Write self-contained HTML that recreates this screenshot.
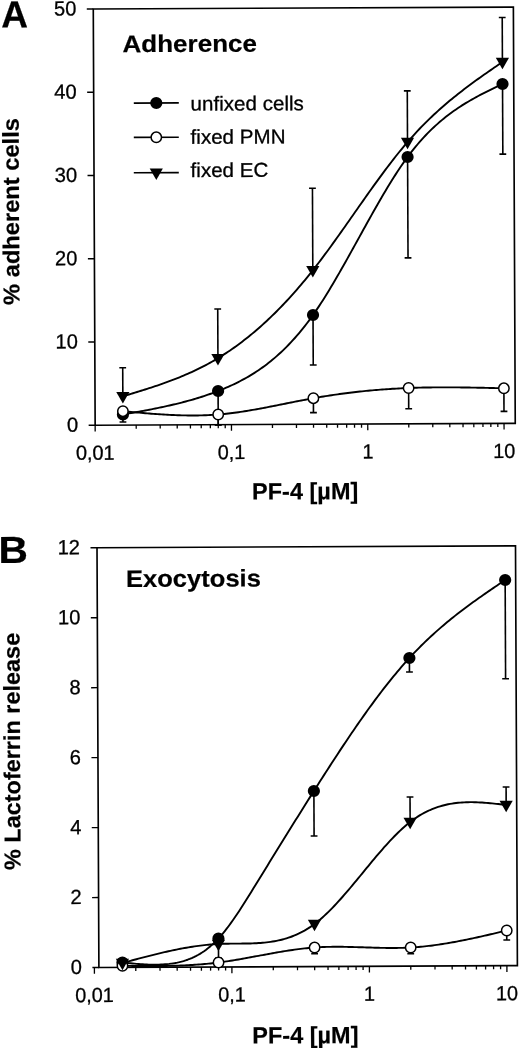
<!DOCTYPE html>
<html lang="en"><head><meta charset="utf-8"><title>PF-4 adherence and exocytosis</title>
<style>
html,body{margin:0;padding:0;background:#fff;}
body{width:520px;height:1048px;overflow:hidden;}
svg{display:block;font-family:'Liberation Sans', Arial, Helvetica, sans-serif;fill:#000;}
</style></head><body>
<svg width="520" height="1048" viewBox="0 0 520 1048">
<rect width="520" height="1048" fill="#fff"/>
<g transform="rotate(-0.258 260 524)">
<rect x="95.60" y="8.25" width="420.10" height="416.25" fill="none" stroke="#000" stroke-width="1.65"/>
<line x1="89.10" y1="424.50" x2="95.60" y2="424.50" stroke="#000" stroke-width="1.4" />
<text transform="translate(78.60 430.90) scale(0.98 1)" font-size="20.5" text-anchor="end" stroke="#000" stroke-width="0.3">0</text>
<line x1="89.10" y1="341.25" x2="95.60" y2="341.25" stroke="#000" stroke-width="1.4" />
<text transform="translate(78.60 347.65) scale(0.98 1)" font-size="20.5" text-anchor="end" stroke="#000" stroke-width="0.3">10</text>
<line x1="89.10" y1="258.00" x2="95.60" y2="258.00" stroke="#000" stroke-width="1.4" />
<text transform="translate(78.60 264.40) scale(0.98 1)" font-size="20.5" text-anchor="end" stroke="#000" stroke-width="0.3">20</text>
<line x1="89.10" y1="174.75" x2="95.60" y2="174.75" stroke="#000" stroke-width="1.4" />
<text transform="translate(78.60 181.15) scale(0.98 1)" font-size="20.5" text-anchor="end" stroke="#000" stroke-width="0.3">30</text>
<line x1="89.10" y1="91.50" x2="95.60" y2="91.50" stroke="#000" stroke-width="1.4" />
<text transform="translate(78.60 97.90) scale(0.98 1)" font-size="20.5" text-anchor="end" stroke="#000" stroke-width="0.3">40</text>
<line x1="89.10" y1="8.25" x2="95.60" y2="8.25" stroke="#000" stroke-width="1.4" />
<text transform="translate(78.60 14.65) scale(0.98 1)" font-size="20.5" text-anchor="end" stroke="#000" stroke-width="0.3">50</text>
<line x1="95.60" y1="424.50" x2="95.60" y2="430.70" stroke="#000" stroke-width="1.3" />
<line x1="136.63" y1="424.50" x2="136.63" y2="428.10" stroke="#000" stroke-width="1.3" />
<line x1="160.63" y1="424.50" x2="160.63" y2="428.10" stroke="#000" stroke-width="1.3" />
<line x1="177.66" y1="424.50" x2="177.66" y2="428.10" stroke="#000" stroke-width="1.3" />
<line x1="190.87" y1="424.50" x2="190.87" y2="428.10" stroke="#000" stroke-width="1.3" />
<line x1="201.66" y1="424.50" x2="201.66" y2="428.10" stroke="#000" stroke-width="1.3" />
<line x1="210.79" y1="424.50" x2="210.79" y2="428.10" stroke="#000" stroke-width="1.3" />
<line x1="218.69" y1="424.50" x2="218.69" y2="428.10" stroke="#000" stroke-width="1.3" />
<line x1="225.66" y1="424.50" x2="225.66" y2="428.10" stroke="#000" stroke-width="1.3" />
<line x1="231.90" y1="424.50" x2="231.90" y2="430.70" stroke="#000" stroke-width="1.3" />
<line x1="272.93" y1="424.50" x2="272.93" y2="428.10" stroke="#000" stroke-width="1.3" />
<line x1="296.93" y1="424.50" x2="296.93" y2="428.10" stroke="#000" stroke-width="1.3" />
<line x1="313.96" y1="424.50" x2="313.96" y2="428.10" stroke="#000" stroke-width="1.3" />
<line x1="327.17" y1="424.50" x2="327.17" y2="428.10" stroke="#000" stroke-width="1.3" />
<line x1="337.96" y1="424.50" x2="337.96" y2="428.10" stroke="#000" stroke-width="1.3" />
<line x1="347.09" y1="424.50" x2="347.09" y2="428.10" stroke="#000" stroke-width="1.3" />
<line x1="354.99" y1="424.50" x2="354.99" y2="428.10" stroke="#000" stroke-width="1.3" />
<line x1="361.96" y1="424.50" x2="361.96" y2="428.10" stroke="#000" stroke-width="1.3" />
<line x1="368.20" y1="424.50" x2="368.20" y2="430.70" stroke="#000" stroke-width="1.3" />
<line x1="409.23" y1="424.50" x2="409.23" y2="428.10" stroke="#000" stroke-width="1.3" />
<line x1="433.23" y1="424.50" x2="433.23" y2="428.10" stroke="#000" stroke-width="1.3" />
<line x1="450.26" y1="424.50" x2="450.26" y2="428.10" stroke="#000" stroke-width="1.3" />
<line x1="463.47" y1="424.50" x2="463.47" y2="428.10" stroke="#000" stroke-width="1.3" />
<line x1="474.26" y1="424.50" x2="474.26" y2="428.10" stroke="#000" stroke-width="1.3" />
<line x1="483.39" y1="424.50" x2="483.39" y2="428.10" stroke="#000" stroke-width="1.3" />
<line x1="491.29" y1="424.50" x2="491.29" y2="428.10" stroke="#000" stroke-width="1.3" />
<line x1="498.26" y1="424.50" x2="498.26" y2="428.10" stroke="#000" stroke-width="1.3" />
<line x1="504.50" y1="424.50" x2="504.50" y2="430.70" stroke="#000" stroke-width="1.3" />
<text transform="translate(95.60 459.00) scale(0.97 1)" font-size="20.5" text-anchor="middle" stroke="#000" stroke-width="0.3">0,01</text>
<text transform="translate(231.90 459.00) scale(0.97 1)" font-size="20.5" text-anchor="middle" stroke="#000" stroke-width="0.3">0,1</text>
<text transform="translate(368.20 459.00) scale(0.97 1)" font-size="20.5" text-anchor="middle" stroke="#000" stroke-width="0.3">1</text>
<text transform="translate(504.50 459.00) scale(0.97 1)" font-size="20.5" text-anchor="middle" stroke="#000" stroke-width="0.3">10</text>
<text transform="translate(3.53 26.34) scale(0.98 1)" font-size="37.8" font-weight="bold" text-anchor="start" stroke="#000" stroke-width="0.2">A</text>
<text transform="translate(124.62 51.58) scale(1.085 1)" font-size="24" font-weight="bold" text-anchor="start" stroke="#000" stroke-width="0.2">Adherence</text>
<text transform="translate(20.41 210.42) rotate(-90) scale(1.03 1)" font-size="23" font-weight="bold" text-anchor="middle" stroke="#000" stroke-width="0.2">% adherent cells</text>
<text transform="translate(305.31 499.50)" font-size="23.5" font-weight="bold" text-anchor="middle" stroke="#000" stroke-width="0.2">PF-4 [µM]</text>
<line x1="135.69" y1="102.53" x2="180.69" y2="102.53" stroke="#000" stroke-width="1.6" />
<circle cx="158.19" cy="102.53" r="6.1" fill="#000"/>
<text transform="translate(192.46 110.29) scale(1.03 1)" font-size="20" text-anchor="start" stroke="#000" stroke-width="0.3">unfixed cells</text>
<line x1="135.54" y1="136.83" x2="180.54" y2="136.83" stroke="#000" stroke-width="1.6" />
<circle cx="158.04" cy="136.83" r="5.2" fill="#fff" stroke="#000" stroke-width="1.5"/>
<text transform="translate(192.31 143.49) scale(1.03 1)" font-size="20" text-anchor="start" stroke="#000" stroke-width="0.3">fixed PMN</text>
<line x1="135.38" y1="172.23" x2="180.38" y2="172.23" stroke="#000" stroke-width="1.6" />
<polygon points="151.28,167.98 164.48,167.98 157.88,179.48" fill="#000"/>
<text transform="translate(192.16 176.79) scale(1.03 1)" font-size="20" text-anchor="start" stroke="#000" stroke-width="0.3">fixed EC</text>
<path d="M123.42,413.88 L125.45,413.53 L127.48,413.19 L129.50,412.84 L131.53,412.48 L133.56,412.13 L135.58,411.78 L137.61,411.42 L139.64,411.06 L141.66,410.70 L143.69,410.33 L145.72,409.96 L147.75,409.59 L149.77,409.21 L151.80,408.83 L153.83,408.44 L155.85,408.04 L157.88,407.64 L159.91,407.23 L161.93,406.82 L163.96,406.40 L165.99,405.97 L168.02,405.53 L170.04,405.08 L172.07,404.63 L174.10,404.16 L176.12,403.69 L178.15,403.20 L180.18,402.71 L182.20,402.20 L184.23,401.69 L186.26,401.16 L188.29,400.62 L190.31,400.06 L192.34,399.50 L194.37,398.92 L196.39,398.33 L198.42,397.72 L200.45,397.10 L202.48,396.47 L204.50,395.82 L206.53,395.15 L208.56,394.47 L210.58,393.77 L212.61,393.06 L214.64,392.33 L216.66,391.58 L218.69,390.81 L220.72,390.03 L222.75,389.22 L224.77,388.40 L226.80,387.55 L228.83,386.68 L230.85,385.79 L232.88,384.88 L234.91,383.93 L236.93,382.96 L238.96,381.96 L240.99,380.94 L243.02,379.88 L245.04,378.79 L247.07,377.67 L249.10,376.52 L251.12,375.33 L253.15,374.10 L255.18,372.84 L257.20,371.54 L259.23,370.20 L261.26,368.82 L263.29,367.40 L265.31,365.94 L267.34,364.43 L269.37,362.88 L271.39,361.28 L273.42,359.64 L275.45,357.95 L277.47,356.21 L279.50,354.42 L281.53,352.57 L283.56,350.68 L285.58,348.73 L287.61,346.73 L289.64,344.67 L291.66,342.56 L293.69,340.38 L295.72,338.15 L297.74,335.86 L299.77,333.51 L301.80,331.10 L303.83,328.62 L305.85,326.07 L307.88,323.47 L309.91,320.79 L311.93,318.05 L313.96,315.24 L315.99,312.36 L318.01,309.41 L320.04,306.40 L322.07,303.33 L324.10,300.20 L326.12,297.01 L328.15,293.78 L330.18,290.50 L332.20,287.17 L334.23,283.80 L336.26,280.39 L338.28,276.94 L340.31,273.46 L342.34,269.95 L344.37,266.42 L346.39,262.86 L348.42,259.28 L350.45,255.68 L352.47,252.07 L354.50,248.45 L356.53,244.82 L358.56,241.18 L360.58,237.54 L362.61,233.91 L364.64,230.27 L366.66,226.65 L368.69,223.03 L370.72,219.43 L372.74,215.85 L374.77,212.28 L376.80,208.74 L378.83,205.22 L380.85,201.73 L382.88,198.28 L384.91,194.86 L386.93,191.47 L388.96,188.13 L390.99,184.84 L393.01,181.59 L395.04,178.39 L397.07,175.24 L399.10,172.15 L401.12,169.12 L403.15,166.16 L405.18,163.26 L407.20,160.42 L409.23,157.66 L411.26,154.98 L413.28,152.37 L415.31,149.83 L417.34,147.36 L419.37,144.96 L421.39,142.63 L423.42,140.36 L425.45,138.16 L427.47,136.01 L429.50,133.93 L431.53,131.91 L433.55,129.95 L435.58,128.04 L437.61,126.19 L439.64,124.39 L441.66,122.64 L443.69,120.94 L445.72,119.29 L447.74,117.69 L449.77,116.13 L451.80,114.61 L453.82,113.13 L455.85,111.70 L457.88,110.30 L459.91,108.94 L461.93,107.62 L463.96,106.32 L465.99,105.07 L468.01,103.84 L470.04,102.64 L472.07,101.46 L474.09,100.32 L476.12,99.19 L478.15,98.09 L480.18,97.01 L482.20,95.95 L484.23,94.91 L486.26,93.88 L488.28,92.87 L490.31,91.87 L492.34,90.88 L494.36,89.90 L496.39,88.93 L498.42,87.96 L500.45,87.00 L502.47,86.05 L504.50,85.09" fill="none" stroke="#000" stroke-width="1.9" stroke-linejoin="round"/>
<line x1="123.42" y1="413.88" x2="123.42" y2="421.38" stroke="#000" stroke-width="1.6" />
<line x1="120.02" y1="421.38" x2="126.82" y2="421.38" stroke="#000" stroke-width="1.6" />
<line x1="218.69" y1="390.81" x2="218.69" y2="424.81" stroke="#000" stroke-width="1.6" />
<line x1="215.29" y1="424.81" x2="222.09" y2="424.81" stroke="#000" stroke-width="1.6" />
<line x1="313.96" y1="315.24" x2="313.96" y2="365.24" stroke="#000" stroke-width="1.6" />
<line x1="310.56" y1="365.24" x2="317.36" y2="365.24" stroke="#000" stroke-width="1.6" />
<line x1="409.23" y1="157.66" x2="409.23" y2="258.56" stroke="#000" stroke-width="1.6" />
<line x1="405.83" y1="258.56" x2="412.63" y2="258.56" stroke="#000" stroke-width="1.6" />
<line x1="504.50" y1="85.09" x2="504.50" y2="155.19" stroke="#000" stroke-width="1.6" />
<line x1="501.10" y1="155.19" x2="507.90" y2="155.19" stroke="#000" stroke-width="1.6" />
<circle cx="123.42" cy="413.88" r="6.1" fill="#000"/>
<circle cx="218.69" cy="390.81" r="6.1" fill="#000"/>
<circle cx="313.96" cy="315.24" r="6.1" fill="#000"/>
<circle cx="409.23" cy="157.66" r="6.1" fill="#000"/>
<circle cx="504.50" cy="85.09" r="6.1" fill="#000"/>
<path d="M123.42,410.58 L125.45,410.78 L127.48,410.98 L129.50,411.17 L131.53,411.37 L133.56,411.56 L135.58,411.75 L137.61,411.94 L139.64,412.13 L141.66,412.31 L143.69,412.49 L145.72,412.67 L147.75,412.85 L149.77,413.02 L151.80,413.19 L153.83,413.35 L155.85,413.51 L157.88,413.66 L159.91,413.81 L161.93,413.95 L163.96,414.09 L165.99,414.22 L168.02,414.34 L170.04,414.45 L172.07,414.56 L174.10,414.66 L176.12,414.76 L178.15,414.84 L180.18,414.92 L182.20,414.98 L184.23,415.04 L186.26,415.09 L188.29,415.13 L190.31,415.16 L192.34,415.18 L194.37,415.18 L196.39,415.18 L198.42,415.16 L200.45,415.14 L202.48,415.10 L204.50,415.05 L206.53,414.98 L208.56,414.91 L210.58,414.81 L212.61,414.71 L214.64,414.59 L216.66,414.46 L218.69,414.31 L220.72,414.15 L222.75,413.97 L224.77,413.78 L226.80,413.58 L228.83,413.36 L230.85,413.13 L232.88,412.89 L234.91,412.64 L236.93,412.37 L238.96,412.09 L240.99,411.81 L243.02,411.51 L245.04,411.21 L247.07,410.89 L249.10,410.57 L251.12,410.24 L253.15,409.90 L255.18,409.55 L257.20,409.20 L259.23,408.84 L261.26,408.48 L263.29,408.11 L265.31,407.73 L267.34,407.35 L269.37,406.97 L271.39,406.58 L273.42,406.19 L275.45,405.80 L277.47,405.40 L279.50,405.00 L281.53,404.61 L283.56,404.21 L285.58,403.81 L287.61,403.41 L289.64,403.01 L291.66,402.61 L293.69,402.22 L295.72,401.82 L297.74,401.43 L299.77,401.04 L301.80,400.66 L303.83,400.28 L305.85,399.90 L307.88,399.53 L309.91,399.16 L311.93,398.80 L313.96,398.44 L315.99,398.09 L318.01,397.75 L320.04,397.41 L322.07,397.08 L324.10,396.76 L326.12,396.44 L328.15,396.13 L330.18,395.82 L332.20,395.53 L334.23,395.23 L336.26,394.95 L338.28,394.67 L340.31,394.39 L342.34,394.13 L344.37,393.87 L346.39,393.61 L348.42,393.36 L350.45,393.12 L352.47,392.89 L354.50,392.65 L356.53,392.43 L358.56,392.21 L360.58,392.00 L362.61,391.79 L364.64,391.59 L366.66,391.40 L368.69,391.21 L370.72,391.03 L372.74,390.85 L374.77,390.68 L376.80,390.52 L378.83,390.36 L380.85,390.21 L382.88,390.06 L384.91,389.92 L386.93,389.78 L388.96,389.66 L390.99,389.53 L393.01,389.41 L395.04,389.30 L397.07,389.19 L399.10,389.09 L401.12,389.00 L403.15,388.91 L405.18,388.82 L407.20,388.74 L409.23,388.67 L411.26,388.60 L413.28,388.54 L415.31,388.48 L417.34,388.43 L419.37,388.38 L421.39,388.34 L423.42,388.30 L425.45,388.27 L427.47,388.24 L429.50,388.22 L431.53,388.20 L433.55,388.18 L435.58,388.17 L437.61,388.16 L439.64,388.16 L441.66,388.16 L443.69,388.17 L445.72,388.17 L447.74,388.18 L449.77,388.20 L451.80,388.22 L453.82,388.24 L455.85,388.26 L457.88,388.29 L459.91,388.32 L461.93,388.35 L463.96,388.38 L465.99,388.42 L468.01,388.46 L470.04,388.50 L472.07,388.54 L474.09,388.58 L476.12,388.63 L478.15,388.68 L480.18,388.73 L482.20,388.78 L484.23,388.83 L486.26,388.88 L488.28,388.94 L490.31,388.99 L492.34,389.05 L494.36,389.11 L496.39,389.16 L498.42,389.22 L500.45,389.28 L502.47,389.34 L504.50,389.40" fill="none" stroke="#000" stroke-width="1.9" stroke-linejoin="round"/>
<line x1="218.69" y1="414.31" x2="218.69" y2="424.81" stroke="#000" stroke-width="1.6" />
<line x1="215.29" y1="424.81" x2="222.09" y2="424.81" stroke="#000" stroke-width="1.6" />
<line x1="313.96" y1="398.44" x2="313.96" y2="412.84" stroke="#000" stroke-width="1.6" />
<line x1="310.56" y1="412.84" x2="317.36" y2="412.84" stroke="#000" stroke-width="1.6" />
<line x1="409.23" y1="388.67" x2="409.23" y2="409.37" stroke="#000" stroke-width="1.6" />
<line x1="405.83" y1="409.37" x2="412.63" y2="409.37" stroke="#000" stroke-width="1.6" />
<line x1="504.50" y1="389.40" x2="504.50" y2="412.50" stroke="#000" stroke-width="1.6" />
<line x1="501.10" y1="412.50" x2="507.90" y2="412.50" stroke="#000" stroke-width="1.6" />
<circle cx="123.42" cy="410.58" r="5.2" fill="#fff" stroke="#000" stroke-width="1.5"/>
<circle cx="218.69" cy="414.31" r="5.2" fill="#fff" stroke="#000" stroke-width="1.5"/>
<circle cx="313.96" cy="398.44" r="5.2" fill="#fff" stroke="#000" stroke-width="1.5"/>
<circle cx="409.23" cy="388.67" r="5.2" fill="#fff" stroke="#000" stroke-width="1.5"/>
<circle cx="504.50" cy="389.40" r="5.2" fill="#fff" stroke="#000" stroke-width="1.5"/>
<path d="M123.42,395.68 L125.45,395.09 L127.48,394.49 L129.50,393.89 L131.53,393.29 L133.56,392.69 L135.58,392.08 L137.61,391.47 L139.64,390.86 L141.66,390.24 L143.69,389.62 L145.72,388.99 L147.75,388.36 L149.77,387.72 L151.80,387.07 L153.83,386.41 L155.85,385.75 L157.88,385.08 L159.91,384.39 L161.93,383.70 L163.96,383.00 L165.99,382.28 L168.02,381.56 L170.04,380.82 L172.07,380.07 L174.10,379.31 L176.12,378.53 L178.15,377.74 L180.18,376.93 L182.20,376.11 L184.23,375.27 L186.26,374.41 L188.29,373.54 L190.31,372.65 L192.34,371.74 L194.37,370.81 L196.39,369.87 L198.42,368.90 L200.45,367.91 L202.48,366.90 L204.50,365.87 L206.53,364.82 L208.56,363.75 L210.58,362.65 L212.61,361.53 L214.64,360.38 L216.66,359.21 L218.69,358.01 L220.72,356.79 L222.75,355.54 L224.77,354.26 L226.80,352.96 L228.83,351.63 L230.85,350.28 L232.88,348.89 L234.91,347.49 L236.93,346.05 L238.96,344.59 L240.99,343.10 L243.02,341.58 L245.04,340.04 L247.07,338.47 L249.10,336.87 L251.12,335.24 L253.15,333.59 L255.18,331.90 L257.20,330.19 L259.23,328.45 L261.26,326.69 L263.29,324.89 L265.31,323.07 L267.34,321.22 L269.37,319.34 L271.39,317.43 L273.42,315.49 L275.45,313.52 L277.47,311.53 L279.50,309.50 L281.53,307.45 L283.56,305.37 L285.58,303.26 L287.61,301.11 L289.64,298.94 L291.66,296.74 L293.69,294.51 L295.72,292.25 L297.74,289.96 L299.77,287.64 L301.80,285.29 L303.83,282.90 L305.85,280.49 L307.88,278.05 L309.91,275.58 L311.93,273.07 L313.96,270.54 L315.99,267.97 L318.01,265.38 L320.04,262.75 L322.07,260.11 L324.10,257.43 L326.12,254.73 L328.15,252.01 L330.18,249.28 L332.20,246.52 L334.23,243.74 L336.26,240.95 L338.28,238.14 L340.31,235.33 L342.34,232.50 L344.37,229.66 L346.39,226.81 L348.42,223.95 L350.45,221.10 L352.47,218.23 L354.50,215.37 L356.53,212.50 L358.56,209.64 L360.58,206.78 L362.61,203.92 L364.64,201.06 L366.66,198.22 L368.69,195.38 L370.72,192.55 L372.74,189.74 L374.77,186.94 L376.80,184.15 L378.83,181.38 L380.85,178.62 L382.88,175.89 L384.91,173.17 L386.93,170.48 L388.96,167.81 L390.99,165.17 L393.01,162.55 L395.04,159.96 L397.07,157.40 L399.10,154.88 L401.12,152.38 L403.15,149.92 L405.18,147.50 L407.20,145.11 L409.23,142.76 L411.26,140.46 L413.28,138.19 L415.31,135.96 L417.34,133.77 L419.37,131.61 L421.39,129.49 L423.42,127.41 L425.45,125.36 L427.47,123.34 L429.50,121.36 L431.53,119.41 L433.55,117.49 L435.58,115.60 L437.61,113.74 L439.64,111.90 L441.66,110.10 L443.69,108.32 L445.72,106.57 L447.74,104.84 L449.77,103.14 L451.80,101.46 L453.82,99.80 L455.85,98.16 L457.88,96.54 L459.91,94.95 L461.93,93.37 L463.96,91.81 L465.99,90.27 L468.01,88.74 L470.04,87.23 L472.07,85.74 L474.09,84.26 L476.12,82.79 L478.15,81.33 L480.18,79.88 L482.20,78.45 L484.23,77.02 L486.26,75.60 L488.28,74.19 L490.31,72.79 L492.34,71.39 L494.36,70.00 L496.39,68.61 L498.42,67.23 L500.45,65.85 L502.47,64.47 L504.50,63.09" fill="none" stroke="#000" stroke-width="1.9" stroke-linejoin="round"/>
<line x1="123.42" y1="395.68" x2="123.42" y2="367.18" stroke="#000" stroke-width="1.6" />
<line x1="120.02" y1="367.18" x2="126.82" y2="367.18" stroke="#000" stroke-width="1.6" />
<line x1="218.69" y1="358.01" x2="218.69" y2="308.81" stroke="#000" stroke-width="1.6" />
<line x1="215.29" y1="308.81" x2="222.09" y2="308.81" stroke="#000" stroke-width="1.6" />
<line x1="313.96" y1="270.54" x2="313.96" y2="188.44" stroke="#000" stroke-width="1.6" />
<line x1="310.56" y1="188.44" x2="317.36" y2="188.44" stroke="#000" stroke-width="1.6" />
<line x1="409.23" y1="142.76" x2="409.23" y2="91.56" stroke="#000" stroke-width="1.6" />
<line x1="405.83" y1="91.56" x2="412.63" y2="91.56" stroke="#000" stroke-width="1.6" />
<line x1="504.50" y1="63.09" x2="504.50" y2="18.59" stroke="#000" stroke-width="1.6" />
<line x1="501.10" y1="18.59" x2="507.90" y2="18.59" stroke="#000" stroke-width="1.6" />
<polygon points="116.82,391.43 130.02,391.43 123.42,402.93" fill="#000"/>
<polygon points="212.09,353.76 225.29,353.76 218.69,365.26" fill="#000"/>
<polygon points="307.36,266.28 320.56,266.28 313.96,277.78" fill="#000"/>
<polygon points="402.63,138.51 415.83,138.51 409.23,150.01" fill="#000"/>
<polygon points="497.90,58.84 511.10,58.84 504.50,70.34" fill="#000"/>
<rect x="96.90" y="547.00" width="418.50" height="419.80" fill="none" stroke="#000" stroke-width="1.65"/>
<line x1="90.40" y1="966.80" x2="96.90" y2="966.80" stroke="#000" stroke-width="1.4" />
<text transform="translate(79.90 973.20) scale(0.98 1)" font-size="20.5" text-anchor="end" stroke="#000" stroke-width="0.3">0</text>
<line x1="90.40" y1="896.83" x2="96.90" y2="896.83" stroke="#000" stroke-width="1.4" />
<text transform="translate(79.90 903.23) scale(0.98 1)" font-size="20.5" text-anchor="end" stroke="#000" stroke-width="0.3">2</text>
<line x1="90.40" y1="826.87" x2="96.90" y2="826.87" stroke="#000" stroke-width="1.4" />
<text transform="translate(79.90 833.27) scale(0.98 1)" font-size="20.5" text-anchor="end" stroke="#000" stroke-width="0.3">4</text>
<line x1="90.40" y1="756.90" x2="96.90" y2="756.90" stroke="#000" stroke-width="1.4" />
<text transform="translate(79.90 763.30) scale(0.98 1)" font-size="20.5" text-anchor="end" stroke="#000" stroke-width="0.3">6</text>
<line x1="90.40" y1="686.93" x2="96.90" y2="686.93" stroke="#000" stroke-width="1.4" />
<text transform="translate(79.90 693.33) scale(0.98 1)" font-size="20.5" text-anchor="end" stroke="#000" stroke-width="0.3">8</text>
<line x1="90.40" y1="616.97" x2="96.90" y2="616.97" stroke="#000" stroke-width="1.4" />
<text transform="translate(79.90 623.37) scale(0.98 1)" font-size="20.5" text-anchor="end" stroke="#000" stroke-width="0.3">10</text>
<line x1="90.40" y1="547.00" x2="96.90" y2="547.00" stroke="#000" stroke-width="1.4" />
<text transform="translate(79.90 553.40) scale(0.98 1)" font-size="20.5" text-anchor="end" stroke="#000" stroke-width="0.3">12</text>
<line x1="92.40" y1="966.80" x2="92.40" y2="973.00" stroke="#000" stroke-width="1.3" />
<line x1="133.79" y1="966.80" x2="133.79" y2="970.40" stroke="#000" stroke-width="1.3" />
<line x1="158.00" y1="966.80" x2="158.00" y2="970.40" stroke="#000" stroke-width="1.3" />
<line x1="175.18" y1="966.80" x2="175.18" y2="970.40" stroke="#000" stroke-width="1.3" />
<line x1="188.51" y1="966.80" x2="188.51" y2="970.40" stroke="#000" stroke-width="1.3" />
<line x1="199.40" y1="966.80" x2="199.40" y2="970.40" stroke="#000" stroke-width="1.3" />
<line x1="208.60" y1="966.80" x2="208.60" y2="970.40" stroke="#000" stroke-width="1.3" />
<line x1="216.57" y1="966.80" x2="216.57" y2="970.40" stroke="#000" stroke-width="1.3" />
<line x1="223.61" y1="966.80" x2="223.61" y2="970.40" stroke="#000" stroke-width="1.3" />
<line x1="229.90" y1="966.80" x2="229.90" y2="973.00" stroke="#000" stroke-width="1.3" />
<line x1="271.29" y1="966.80" x2="271.29" y2="970.40" stroke="#000" stroke-width="1.3" />
<line x1="295.50" y1="966.80" x2="295.50" y2="970.40" stroke="#000" stroke-width="1.3" />
<line x1="312.68" y1="966.80" x2="312.68" y2="970.40" stroke="#000" stroke-width="1.3" />
<line x1="326.01" y1="966.80" x2="326.01" y2="970.40" stroke="#000" stroke-width="1.3" />
<line x1="336.90" y1="966.80" x2="336.90" y2="970.40" stroke="#000" stroke-width="1.3" />
<line x1="346.10" y1="966.80" x2="346.10" y2="970.40" stroke="#000" stroke-width="1.3" />
<line x1="354.07" y1="966.80" x2="354.07" y2="970.40" stroke="#000" stroke-width="1.3" />
<line x1="361.11" y1="966.80" x2="361.11" y2="970.40" stroke="#000" stroke-width="1.3" />
<line x1="367.40" y1="966.80" x2="367.40" y2="973.00" stroke="#000" stroke-width="1.3" />
<line x1="408.79" y1="966.80" x2="408.79" y2="970.40" stroke="#000" stroke-width="1.3" />
<line x1="433.00" y1="966.80" x2="433.00" y2="970.40" stroke="#000" stroke-width="1.3" />
<line x1="450.18" y1="966.80" x2="450.18" y2="970.40" stroke="#000" stroke-width="1.3" />
<line x1="463.51" y1="966.80" x2="463.51" y2="970.40" stroke="#000" stroke-width="1.3" />
<line x1="474.40" y1="966.80" x2="474.40" y2="970.40" stroke="#000" stroke-width="1.3" />
<line x1="483.60" y1="966.80" x2="483.60" y2="970.40" stroke="#000" stroke-width="1.3" />
<line x1="491.57" y1="966.80" x2="491.57" y2="970.40" stroke="#000" stroke-width="1.3" />
<line x1="498.61" y1="966.80" x2="498.61" y2="970.40" stroke="#000" stroke-width="1.3" />
<line x1="504.90" y1="966.80" x2="504.90" y2="973.00" stroke="#000" stroke-width="1.3" />
<text transform="translate(92.40 1001.30) scale(0.97 1)" font-size="20.5" text-anchor="middle" stroke="#000" stroke-width="0.3">0,01</text>
<text transform="translate(229.90 1001.30) scale(0.97 1)" font-size="20.5" text-anchor="middle" stroke="#000" stroke-width="0.3">0,1</text>
<text transform="translate(367.40 1001.30) scale(0.97 1)" font-size="20.5" text-anchor="middle" stroke="#000" stroke-width="0.3">1</text>
<text transform="translate(504.90 1001.30) scale(0.97 1)" font-size="20.5" text-anchor="middle" stroke="#000" stroke-width="0.3">10</text>
<text transform="translate(-1.78 561.82) scale(1.08 1)" font-size="37.8" font-weight="bold" text-anchor="start" stroke="#000" stroke-width="0.2">B</text>
<text transform="translate(125.72 586.40) scale(1.065 1)" font-size="24" font-weight="bold" text-anchor="start" stroke="#000" stroke-width="0.2">Exocytosis</text>
<text transform="translate(18.98 750.32) rotate(-90) scale(1.02 1)" font-size="23" font-weight="bold" text-anchor="middle" stroke="#000" stroke-width="0.2">% Lactoferrin release</text>
<text transform="translate(303.06 1043.50)" font-size="23.5" font-weight="bold" text-anchor="middle" stroke="#000" stroke-width="0.2">PF-4 [µM]</text>
<path d="M120.47,961.88 L122.49,962.09 L124.52,962.31 L126.55,962.51 L128.57,962.72 L130.60,962.92 L132.62,963.10 L134.65,963.28 L136.68,963.45 L138.70,963.61 L140.73,963.75 L142.76,963.87 L144.78,963.98 L146.81,964.07 L148.83,964.13 L150.86,964.18 L152.89,964.20 L154.91,964.19 L156.94,964.16 L158.97,964.09 L160.99,964.00 L163.02,963.87 L165.08,963.71 L167.14,963.51 L169.20,963.26 L171.26,962.97 L173.32,962.64 L175.38,962.25 L177.44,961.80 L179.50,961.30 L181.56,960.73 L183.62,960.10 L185.68,959.40 L187.74,958.63 L189.80,957.78 L191.86,956.85 L193.92,955.84 L195.98,954.74 L198.04,953.56 L200.10,952.28 L202.16,950.91 L204.22,949.43 L206.28,947.86 L208.34,946.17 L210.40,944.38 L212.46,942.48 L214.52,940.45 L216.57,938.31 L218.65,936.04 L220.72,933.64 L222.79,931.14 L224.86,928.53 L226.94,925.82 L229.01,923.02 L231.08,920.15 L233.15,917.19 L235.23,914.17 L237.30,911.08 L239.37,907.94 L241.44,904.75 L243.51,901.52 L245.59,898.25 L247.66,894.96 L249.73,891.64 L251.80,888.31 L253.88,884.98 L255.90,881.72 L257.93,878.45 L259.96,875.19 L261.99,871.93 L264.01,868.67 L266.04,865.41 L268.07,862.15 L270.10,858.89 L272.13,855.64 L274.15,852.38 L276.18,849.13 L278.21,845.89 L280.24,842.64 L282.27,839.40 L284.29,836.16 L286.32,832.92 L288.35,829.69 L290.38,826.46 L292.40,823.24 L294.43,820.01 L296.46,816.80 L298.49,813.59 L300.52,810.38 L302.54,807.17 L304.57,803.98 L306.60,800.79 L308.63,797.60 L310.66,794.42 L312.68,791.24 L314.69,788.11 L316.69,784.99 L318.69,781.88 L320.69,778.77 L322.69,775.67 L324.70,772.58 L326.70,769.50 L328.70,766.43 L330.70,763.37 L332.71,760.32 L334.71,757.28 L336.71,754.26 L338.71,751.25 L340.71,748.25 L342.72,745.27 L344.72,742.30 L346.72,739.35 L348.72,736.41 L350.73,733.49 L352.73,730.58 L354.73,727.70 L356.73,724.83 L358.74,721.98 L360.74,719.16 L362.74,716.35 L364.74,713.56 L366.74,710.79 L368.75,708.05 L370.75,705.33 L372.75,702.63 L374.75,699.95 L376.76,697.30 L378.76,694.68 L380.76,692.08 L382.76,689.50 L384.76,686.95 L386.77,684.43 L388.77,681.94 L390.77,679.48 L392.77,677.04 L394.78,674.63 L396.78,672.26 L398.78,669.91 L400.78,667.60 L402.78,665.32 L404.79,663.07 L406.79,660.85 L408.79,658.67 L410.79,656.52 L412.80,654.41 L414.80,652.33 L416.80,650.28 L418.80,648.26 L420.81,646.27 L422.81,644.32 L424.81,642.39 L426.81,640.49 L428.81,638.62 L430.82,636.77 L432.82,634.96 L434.82,633.16 L436.82,631.40 L438.83,629.65 L440.83,627.94 L442.83,626.24 L444.83,624.57 L446.83,622.91 L448.84,621.28 L450.84,619.67 L452.84,618.08 L454.84,616.50 L456.85,614.95 L458.85,613.41 L460.85,611.89 L462.85,610.38 L464.85,608.89 L466.86,607.41 L468.86,605.95 L470.86,604.49 L472.86,603.06 L474.87,601.63 L476.87,600.21 L478.87,598.80 L480.87,597.41 L482.88,596.02 L484.88,594.64 L486.88,593.26 L488.88,591.90 L490.88,590.53 L492.89,589.18 L494.89,587.83 L496.89,586.48 L498.89,585.13 L500.90,583.79 L502.90,582.44 L504.90,581.10" fill="none" stroke="#000" stroke-width="1.9" stroke-linejoin="round"/>
<line x1="216.57" y1="938.31" x2="216.57" y2="957.81" stroke="#000" stroke-width="1.6" />
<line x1="213.17" y1="957.81" x2="219.97" y2="957.81" stroke="#000" stroke-width="1.6" />
<line x1="312.68" y1="791.24" x2="312.68" y2="836.24" stroke="#000" stroke-width="1.6" />
<line x1="309.28" y1="836.24" x2="316.08" y2="836.24" stroke="#000" stroke-width="1.6" />
<line x1="408.79" y1="658.67" x2="408.79" y2="672.67" stroke="#000" stroke-width="1.6" />
<line x1="405.39" y1="672.67" x2="412.19" y2="672.67" stroke="#000" stroke-width="1.6" />
<line x1="504.90" y1="581.10" x2="504.90" y2="679.90" stroke="#000" stroke-width="1.6" />
<line x1="501.50" y1="679.90" x2="508.30" y2="679.90" stroke="#000" stroke-width="1.6" />
<circle cx="120.47" cy="961.88" r="6.1" fill="#000"/>
<circle cx="216.57" cy="938.31" r="6.1" fill="#000"/>
<circle cx="312.68" cy="791.24" r="6.1" fill="#000"/>
<circle cx="408.79" cy="658.67" r="6.1" fill="#000"/>
<circle cx="504.90" cy="581.10" r="6.1" fill="#000"/>
<path d="M120.47,965.18 L122.47,965.22 L124.47,965.25 L126.47,965.28 L128.48,965.32 L130.48,965.35 L132.48,965.38 L134.48,965.41 L136.48,965.43 L138.49,965.46 L140.49,965.48 L142.49,965.50 L144.49,965.52 L146.50,965.54 L148.50,965.55 L150.50,965.56 L152.50,965.56 L154.50,965.56 L156.51,965.56 L158.51,965.55 L160.51,965.54 L162.51,965.52 L164.52,965.50 L166.52,965.47 L168.52,965.44 L170.52,965.40 L172.53,965.35 L174.53,965.30 L176.53,965.24 L178.53,965.18 L180.53,965.11 L182.54,965.03 L184.54,964.94 L186.54,964.84 L188.54,964.74 L190.55,964.63 L192.55,964.51 L194.55,964.38 L196.55,964.24 L198.55,964.10 L200.56,963.94 L202.56,963.77 L204.56,963.60 L206.56,963.41 L208.57,963.21 L210.57,963.00 L212.57,962.79 L214.57,962.56 L216.57,962.31 L218.58,962.06 L220.58,961.80 L222.58,961.52 L224.58,961.24 L226.59,960.94 L228.59,960.64 L230.59,960.33 L232.59,960.01 L234.60,959.68 L236.60,959.35 L238.60,959.01 L240.60,958.67 L242.60,958.32 L244.61,957.97 L246.61,957.61 L248.61,957.25 L250.61,956.89 L252.62,956.53 L254.62,956.16 L256.62,955.80 L258.62,955.43 L260.62,955.07 L262.63,954.71 L264.63,954.34 L266.63,953.99 L268.63,953.63 L270.64,953.28 L272.64,952.93 L274.64,952.59 L276.64,952.25 L278.64,951.92 L280.65,951.59 L282.65,951.27 L284.65,950.96 L286.65,950.66 L288.66,950.37 L290.66,950.08 L292.66,949.81 L294.66,949.54 L296.67,949.29 L298.67,949.05 L300.67,948.82 L302.67,948.61 L304.67,948.41 L306.68,948.22 L308.68,948.04 L310.68,947.89 L312.68,947.75 L314.69,947.62 L316.69,947.51 L318.69,947.42 L320.69,947.34 L322.69,947.27 L324.70,947.22 L326.70,947.18 L328.70,947.15 L330.70,947.13 L332.71,947.13 L334.71,947.13 L336.71,947.14 L338.71,947.16 L340.71,947.19 L342.72,947.23 L344.72,947.27 L346.72,947.32 L348.72,947.37 L350.73,947.43 L352.73,947.50 L354.73,947.56 L356.73,947.63 L358.74,947.70 L360.74,947.77 L362.74,947.85 L364.74,947.92 L366.74,947.99 L368.75,948.06 L370.75,948.13 L372.75,948.20 L374.75,948.26 L376.76,948.32 L378.76,948.37 L380.76,948.42 L382.76,948.46 L384.76,948.50 L386.77,948.53 L388.77,948.55 L390.77,948.56 L392.77,948.56 L394.78,948.56 L396.78,948.54 L398.78,948.51 L400.78,948.47 L402.78,948.42 L404.79,948.35 L406.79,948.27 L408.79,948.18 L410.79,948.07 L412.80,947.94 L414.80,947.80 L416.80,947.65 L418.80,947.48 L420.81,947.30 L422.81,947.11 L424.81,946.90 L426.81,946.68 L428.81,946.45 L430.82,946.21 L432.82,945.95 L434.82,945.68 L436.82,945.40 L438.83,945.12 L440.83,944.82 L442.83,944.51 L444.83,944.19 L446.83,943.86 L448.84,943.52 L450.84,943.17 L452.84,942.82 L454.84,942.45 L456.85,942.08 L458.85,941.70 L460.85,941.32 L462.85,940.92 L464.85,940.52 L466.86,940.12 L468.86,939.70 L470.86,939.29 L472.86,938.86 L474.87,938.43 L476.87,938.00 L478.87,937.56 L480.87,937.12 L482.88,936.67 L484.88,936.22 L486.88,935.77 L488.88,935.32 L490.88,934.86 L492.89,934.40 L494.89,933.94 L496.89,933.47 L498.89,933.01 L500.90,932.54 L502.90,932.08 L504.90,931.61" fill="none" stroke="#000" stroke-width="1.9" stroke-linejoin="round"/>
<line x1="312.68" y1="947.75" x2="312.68" y2="954.05" stroke="#000" stroke-width="1.6" />
<line x1="309.28" y1="954.05" x2="316.08" y2="954.05" stroke="#000" stroke-width="1.6" />
<line x1="408.79" y1="948.18" x2="408.79" y2="954.48" stroke="#000" stroke-width="1.6" />
<line x1="405.39" y1="954.48" x2="412.19" y2="954.48" stroke="#000" stroke-width="1.6" />
<line x1="504.90" y1="931.61" x2="504.90" y2="941.11" stroke="#000" stroke-width="1.6" />
<line x1="501.50" y1="941.11" x2="508.30" y2="941.11" stroke="#000" stroke-width="1.6" />
<circle cx="120.47" cy="965.18" r="5.2" fill="#fff" stroke="#000" stroke-width="1.5"/>
<circle cx="216.57" cy="962.31" r="5.2" fill="#fff" stroke="#000" stroke-width="1.5"/>
<circle cx="312.68" cy="947.75" r="5.2" fill="#fff" stroke="#000" stroke-width="1.5"/>
<circle cx="408.79" cy="948.18" r="5.2" fill="#fff" stroke="#000" stroke-width="1.5"/>
<circle cx="504.90" cy="931.61" r="5.2" fill="#fff" stroke="#000" stroke-width="1.5"/>
<path d="M120.47,962.38 L122.47,961.85 L124.47,961.31 L126.47,960.78 L128.48,960.25 L130.48,959.71 L132.48,959.19 L134.48,958.66 L136.48,958.13 L138.49,957.61 L140.49,957.10 L142.49,956.58 L144.49,956.07 L146.50,955.57 L148.50,955.07 L150.50,954.57 L152.50,954.09 L154.50,953.60 L156.51,953.13 L158.51,952.66 L160.51,952.20 L162.51,951.74 L164.52,951.30 L166.52,950.86 L168.52,950.43 L170.52,950.01 L172.53,949.60 L174.53,949.20 L176.53,948.81 L178.53,948.44 L180.53,948.07 L182.54,947.71 L184.54,947.37 L186.54,947.04 L188.54,946.72 L190.55,946.41 L192.55,946.12 L194.55,945.84 L196.55,945.58 L198.55,945.33 L200.56,945.10 L202.56,944.88 L204.56,944.68 L206.56,944.49 L208.57,944.32 L210.57,944.17 L212.57,944.03 L214.57,943.91 L216.57,943.81 L218.58,943.73 L220.58,943.67 L222.58,943.62 L224.58,943.58 L226.59,943.55 L228.59,943.53 L230.59,943.52 L232.59,943.51 L234.60,943.51 L236.60,943.50 L238.60,943.50 L240.60,943.49 L242.60,943.47 L244.61,943.45 L246.61,943.42 L248.61,943.38 L250.61,943.32 L252.62,943.25 L254.62,943.16 L256.62,943.06 L258.62,942.93 L260.62,942.78 L262.63,942.60 L264.63,942.40 L266.63,942.17 L268.63,941.90 L270.64,941.61 L272.64,941.28 L274.64,940.91 L276.64,940.50 L278.64,940.05 L280.65,939.56 L282.65,939.03 L284.65,938.44 L286.65,937.81 L288.66,937.13 L290.66,936.39 L292.66,935.60 L294.66,934.75 L296.67,933.85 L298.67,932.88 L300.67,931.85 L302.67,930.76 L304.67,929.60 L306.68,928.37 L308.68,927.07 L310.68,925.69 L312.68,924.25 L314.69,922.72 L316.69,921.12 L318.69,919.46 L320.69,917.72 L322.69,915.92 L324.70,914.06 L326.70,912.15 L328.70,910.17 L330.70,908.15 L332.71,906.08 L334.71,903.96 L336.71,901.80 L338.71,899.61 L340.71,897.37 L342.72,895.11 L344.72,892.81 L346.72,890.49 L348.72,888.15 L350.73,885.78 L352.73,883.40 L354.73,881.00 L356.73,878.60 L358.74,876.19 L360.74,873.77 L362.74,871.35 L364.74,868.93 L366.74,866.52 L368.75,864.12 L370.75,861.73 L372.75,859.35 L374.75,856.99 L376.76,854.66 L378.76,852.34 L380.76,850.06 L382.76,847.80 L384.76,845.58 L386.77,843.39 L388.77,841.25 L390.77,839.14 L392.77,837.09 L394.78,835.08 L396.78,833.13 L398.78,831.23 L400.78,829.39 L402.78,827.61 L404.79,825.89 L406.79,824.25 L408.79,822.68 L410.79,821.18 L412.80,819.75 L414.80,818.39 L416.80,817.11 L418.80,815.89 L420.81,814.74 L422.81,813.65 L424.81,812.63 L426.81,811.67 L428.81,810.77 L430.82,809.93 L432.82,809.15 L434.82,808.42 L436.82,807.75 L438.83,807.13 L440.83,806.56 L442.83,806.04 L444.83,805.57 L446.83,805.14 L448.84,804.76 L450.84,804.43 L452.84,804.13 L454.84,803.88 L456.85,803.66 L458.85,803.49 L460.85,803.34 L462.85,803.24 L464.85,803.16 L466.86,803.12 L468.86,803.10 L470.86,803.11 L472.86,803.15 L474.87,803.22 L476.87,803.31 L478.87,803.42 L480.87,803.54 L482.88,803.69 L484.88,803.86 L486.88,804.04 L488.88,804.23 L490.88,804.44 L492.89,804.66 L494.89,804.89 L496.89,805.12 L498.89,805.36 L500.90,805.61 L502.90,805.86 L504.90,806.11" fill="none" stroke="#000" stroke-width="1.9" stroke-linejoin="round"/>
<line x1="408.79" y1="822.68" x2="408.79" y2="797.68" stroke="#000" stroke-width="1.6" />
<line x1="405.39" y1="797.68" x2="412.19" y2="797.68" stroke="#000" stroke-width="1.6" />
<line x1="504.90" y1="806.11" x2="504.90" y2="788.11" stroke="#000" stroke-width="1.6" />
<line x1="501.50" y1="788.11" x2="508.30" y2="788.11" stroke="#000" stroke-width="1.6" />
<polygon points="113.87,958.13 127.07,958.13 120.47,969.63" fill="#000"/>
<polygon points="209.97,939.56 223.17,939.56 216.57,951.06" fill="#000"/>
<polygon points="306.08,919.99 319.28,919.99 312.68,931.49" fill="#000"/>
<polygon points="402.19,818.42 415.39,818.42 408.79,829.92" fill="#000"/>
<polygon points="498.30,801.85 511.50,801.85 504.90,813.35" fill="#000"/>
</g>
</svg>
</body></html>
